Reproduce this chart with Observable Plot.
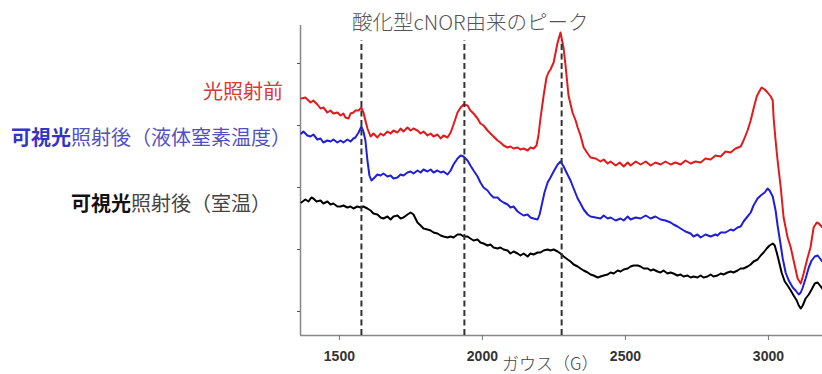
<!DOCTYPE html>
<html><head><meta charset="utf-8">
<script src="https://cdn.jsdelivr.net/npm/d3@7"></script>
<script src="https://cdn.jsdelivr.net/npm/@observablehq/plot@0.6"></script>
<style>
body{margin:0;background:#fff;}
#wrap{position:relative;width:822px;height:374px;overflow:hidden;font-family:"Noto Sans CJK JP","Noto Sans",sans-serif;}
#wrap svg text{font-weight:bold;}
.lab{position:absolute;white-space:nowrap;line-height:1;}
.lab b{font-weight:700;}
</style></head>
<body><div id="wrap"></div>
<script>
// ---- data (Gauss, signal in arbitrary units) ----
const xDomain = [1364, 3189];
const yDomain = [-24, 286];
const xTicks = [1500, 2000, 2500, 3000];
const yTicks = [0, 62, 124, 186, 248];
const peakGauss = [1577, 1937, 2277];
const titleText = "酸化型cNOR由来のピーク";
const xLabel = "ガウス（G）";
const seriesNames = ["光照射前", "可視光照射後（液体窒素温度）", "可視光照射後（室温）"];

const red = [[1367,213],[1381,214],[1399,209],[1409,211],[1423,207],[1434,203],[1444,204],[1458,199],[1469,201],[1479,198],[1493,199],[1504,196],[1514,198],[1521,194],[1532,193],[1539,198],[1549,199],[1556,201],[1567,201],[1577,204],[1584,199],[1591,191],[1598,183],[1609,175],[1619,178],[1633,174],[1644,178],[1654,176],[1668,180],[1679,178],[1689,181],[1703,179],[1714,183],[1724,180],[1738,184],[1749,181],[1759,183],[1773,181],[1784,178],[1794,180],[1808,176],[1819,178],[1829,175],[1843,177],[1854,173],[1864,176],[1878,174],[1889,179],[1899,187],[1913,199],[1924,204],[1934,207],[1948,206],[1958,201],[1969,198],[1983,193],[1993,188],[2004,186],[2018,181],[2028,178],[2039,175],[2053,171],[2063,169],[2074,166],[2088,164],[2098,165],[2109,163],[2123,164],[2133,162],[2144,163],[2158,161],[2168,164],[2179,163],[2189,166],[2196,176],[2203,193],[2214,216],[2224,234],[2231,239],[2238,242],[2249,249],[2256,259],[2263,269],[2273,279],[2284,263],[2291,245],[2301,216],[2315,199],[2326,191],[2333,184],[2343,176],[2354,164],[2368,158],[2378,154],[2396,153],[2413,150],[2424,152],[2438,148],[2448,150],[2466,146],[2480,149],[2494,145],[2508,149],[2518,146],[2536,150],[2553,147],[2571,150],[2588,146],[2605,149],[2623,147],[2640,150],[2658,147],[2675,149],[2693,147],[2710,151],[2728,148],[2745,150],[2763,149],[2780,153],[2798,152],[2815,156],[2833,155],[2850,160],[2868,159],[2885,163],[2903,165],[2913,171],[2927,181],[2938,191],[2948,203],[2959,215],[2966,219],[2976,224],[2987,222],[2997,219],[3008,215],[3015,211],[3018,194],[3025,171],[3032,151],[3043,124],[3053,94],[3067,74],[3078,64],[3088,51],[3102,33],[3113,28],[3123,38],[3137,54],[3147,64],[3158,84],[3169,89],[3176,88],[3189,84]];

const blue = [[1367,178],[1374,180],[1388,176],[1399,175],[1409,177],[1423,172],[1434,173],[1444,169],[1458,171],[1469,170],[1479,172],[1493,169],[1504,171],[1514,169],[1528,172],[1539,170],[1549,173],[1556,174],[1567,179],[1577,185],[1584,180],[1591,171],[1598,151],[1605,136],[1612,131],[1623,134],[1633,137],[1644,136],[1654,138],[1668,135],[1679,136],[1689,133],[1703,134],[1714,137],[1724,136],[1738,139],[1749,140],[1759,138],[1773,141],[1784,139],[1794,142],[1808,140],[1819,142],[1829,139],[1843,141],[1854,139],[1864,140],[1878,137],[1889,141],[1899,147],[1913,153],[1924,156],[1934,155],[1948,151],[1958,146],[1969,141],[1983,135],[1993,129],[2004,124],[2018,121],[2028,117],[2039,114],[2053,114],[2063,111],[2074,109],[2088,107],[2098,104],[2109,105],[2123,100],[2133,98],[2144,96],[2158,97],[2168,94],[2179,93],[2193,92],[2200,97],[2207,106],[2217,119],[2228,129],[2238,134],[2249,140],[2263,147],[2273,150],[2284,145],[2294,139],[2308,131],[2319,123],[2333,113],[2343,108],[2354,102],[2368,97],[2378,95],[2396,94],[2413,93],[2424,96],[2438,93],[2448,94],[2466,91],[2483,93],[2494,91],[2508,95],[2518,92],[2536,94],[2553,93],[2571,96],[2588,93],[2605,95],[2623,92],[2640,91],[2658,89],[2668,87],[2682,85],[2693,83],[2710,80],[2728,78],[2738,75],[2752,77],[2763,74],[2780,77],[2798,75],[2815,77],[2822,76],[2833,79],[2850,79],[2868,82],[2878,81],[2892,84],[2903,85],[2913,90],[2927,95],[2938,99],[2948,106],[2962,113],[2973,116],[2987,119],[2997,123],[3004,121],[3015,115],[3025,101],[3032,86],[3043,66],[3050,53],[3060,39],[3071,31],[3085,24],[3095,21],[3106,17],[3113,19],[3120,24],[3130,33],[3141,44],[3151,51],[3162,55],[3172,56],[3183,52],[3189,50]];

const black = [[1367,109],[1381,112],[1392,110],[1402,114],[1409,113],[1420,110],[1434,111],[1444,108],[1458,110],[1469,107],[1479,108],[1493,105],[1504,105],[1514,106],[1528,104],[1539,105],[1549,103],[1563,105],[1574,104],[1584,105],[1598,103],[1609,101],[1619,98],[1633,97],[1644,94],[1654,93],[1668,95],[1679,92],[1689,95],[1703,96],[1714,93],[1724,94],[1738,97],[1749,99],[1759,97],[1766,93],[1773,89],[1784,86],[1794,83],[1808,82],[1819,81],[1829,79],[1843,78],[1854,76],[1864,75],[1878,74],[1889,75],[1899,74],[1913,77],[1924,77],[1934,75],[1948,75],[1958,73],[1969,71],[1983,72],[1993,69],[2004,68],[2018,66],[2028,67],[2039,64],[2053,63],[2063,64],[2074,62],[2088,61],[2098,58],[2109,60],[2123,58],[2133,56],[2144,58],[2158,55],[2168,58],[2179,57],[2193,59],[2203,59],[2214,61],[2228,62],[2238,61],[2249,62],[2263,60],[2273,58],[2284,55],[2298,52],[2308,50],[2319,47],[2333,45],[2343,43],[2354,41],[2368,39],[2378,37],[2389,36],[2403,34],[2413,35],[2424,36],[2438,37],[2448,39],[2459,38],[2473,41],[2483,40],[2494,42],[2508,43],[2518,45],[2529,46],[2543,46],[2553,45],[2564,43],[2578,43],[2588,41],[2598,42],[2612,40],[2623,39],[2633,41],[2647,38],[2658,39],[2668,38],[2682,36],[2693,37],[2703,35],[2717,36],[2728,34],[2738,35],[2752,34],[2763,36],[2773,34],[2787,35],[2798,37],[2808,35],[2822,36],[2833,38],[2843,37],[2857,39],[2868,40],[2878,39],[2892,41],[2903,43],[2913,43],[2927,45],[2938,47],[2948,50],[2962,52],[2973,56],[2983,59],[2994,63],[3004,66],[3015,68],[3022,66],[3029,59],[3036,51],[3046,39],[3057,30],[3067,26],[3078,21],[3088,16],[3099,11],[3106,6],[3113,3],[3120,6],[3130,13],[3141,17],[3151,22],[3162,28],[3172,29],[3183,25],[3189,23]];

const toRows = a => a.map(([g, v]) => ({g, v}));

const chart = Plot.plot({
  width: 822, height: 374,
  marginLeft: 300, marginRight: 0, marginTop: 25, marginBottom: 39,
  x: {domain: xDomain},
  y: {domain: yDomain},
  style: {fontFamily: "'Liberation Sans', Arial, sans-serif", fontSize: "14px", background: "transparent"},
  marks: [
    Plot.ruleY([yDomain[0]], {stroke: "#888", strokeWidth: 1.5}),
    Plot.ruleX([xDomain[0]], {stroke: "#888", strokeWidth: 1.5}),
    Plot.axisX({ticks: xTicks, tickSize: 5, tickPadding: 11, tickFormat: d3.format("d"), label: null, stroke: "#777", fill: "#333", fontWeight: "bold", fontSize: 14}),
    Plot.axisY({ticks: yTicks, tickSize: 3, tickFormat: () => "", label: null, stroke: "#555"}),
    Plot.line(toRows(red), {x: "g", y: "v", stroke: "#e31a1c", strokeWidth: 2}),
    Plot.line(toRows(blue), {x: "g", y: "v", stroke: "#1f1fd6", strokeWidth: 2}),
    Plot.line(toRows(black), {x: "g", y: "v", stroke: "#000", strokeWidth: 2}),
    Plot.ruleX(peakGauss, {y1: yDomain[0], y2: 271, stroke: "#333", strokeWidth: 2, strokeDasharray: "6,3.5"})
  ]
});
const wrap = document.getElementById("wrap");
wrap.appendChild(chart);

function addLabel(html, css) {
  const d = document.createElement("div");
  d.className = "lab";
  d.innerHTML = html;
  Object.assign(d.style, css);
  wrap.appendChild(d);
}
addLabel(titleText, {left: "352px", top: "11px", fontSize: "20.5px", color: "#555", fontWeight: "300"});
addLabel(xLabel, {left: "502px", top: "354px", fontSize: "17px", color: "#444", fontWeight: "300"});
addLabel(seriesNames[0], {left: "203px", top: "81px", fontSize: "20px", color: "#d63a3a"});
addLabel("<b>" + seriesNames[1].slice(0, 3) + "</b>" + seriesNames[1].slice(3), {left: "11px", top: "127px", fontSize: "20px", color: "#5252bd"});
wrap.lastChild.querySelector("b").style.color = "#3333c8";
addLabel("<b>" + seriesNames[2].slice(0, 3) + "</b>" + seriesNames[2].slice(3), {left: "71px", top: "193px", fontSize: "20px", color: "#444"});
wrap.lastChild.querySelector("b").style.color = "#111";
</script>
</body></html>
